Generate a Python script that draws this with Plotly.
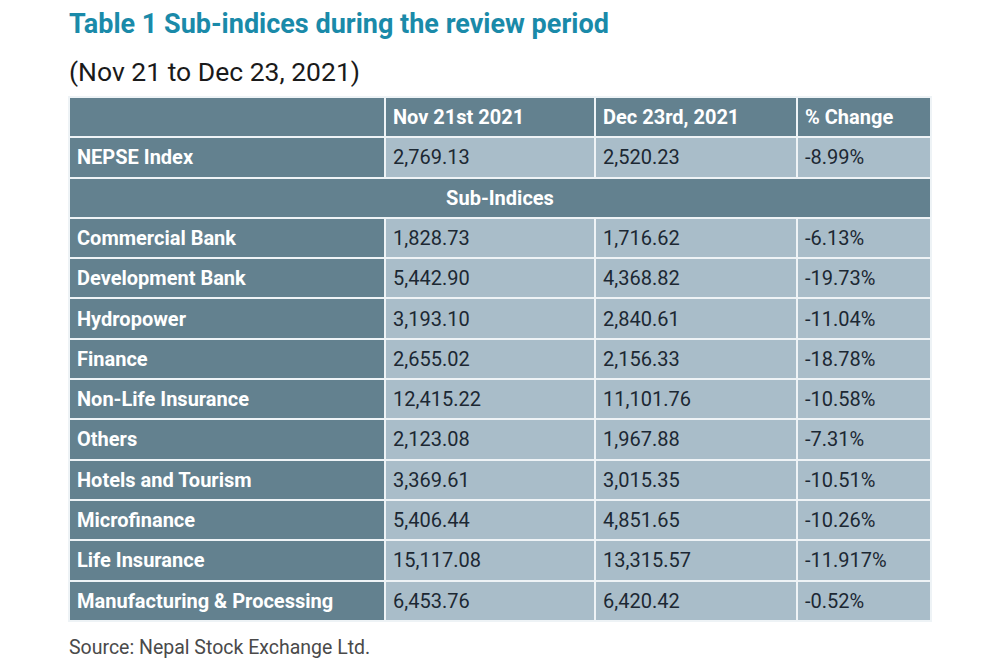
import plotly.graph_objects as go

# ---- data ----
title_text = "Table 1 Sub-indices during the review period"
subtitle_text = "(Nov 21 to Dec 23, 2021)"
source_text = "Source: Nepal Stock Exchange Ltd."

col_headers = ["", "Nov 21st 2021", "Dec 23rd, 2021", "% Change"]

main_label = ["NEPSE Index"]
main_nov = ["2,769.13"]
main_dec = ["2,520.23"]
main_chg = ["-8.99%"]

section_label = "Sub-Indices"

sectors = ["Commercial Bank", "Development Bank", "Hydropower", "Finance",
           "Non-Life Insurance", "Others", "Hotels and Tourism", "Microfinance",
           "Life Insurance", "Manufacturing & Processing"]
nov21 = ["1,828.73", "5,442.90", "3,193.10", "2,655.02", "12,415.22",
         "2,123.08", "3,369.61", "5,406.44", "15,117.08", "6,453.76"]
dec23 = ["1,716.62", "4,368.82", "2,840.61", "2,156.33", "11,101.76",
         "1,967.88", "3,015.35", "4,851.65", "13,315.57", "6,420.42"]
pct_change = ["-6.13%", "-19.73%", "-11.04%", "-18.78%", "-10.58%",
              "-7.31%", "-10.51%", "-10.26%", "-11.917%", "-0.52%"]

# ---- style ----
W, H = 1000, 666
OFF = 8  # page body margin offset of the figure inside the browser window
FONT = "Roboto, Liberation Sans, sans-serif"
DARK = "#63818f"
LIGHT = "#a9bdc9"
LINE = "#eef3f6"
TEXT_DARK = "#1c2833"
TEAL = "#1a8aa9"

x0, x1 = 69 - OFF, 931 - OFF
top = 97 - OFF
row_h = 40.3
col_w = [316, 210, 202, 134]
fs = 20
TXT_COLORS = ["white", TEXT_DARK, TEXT_DARK, TEXT_DARK]
FILLS = [DARK, LIGHT, LIGHT, LIGHT]
line = dict(color=LINE, width=2)


def ydom(top_px, n_rows):
    return [max(0, 1 - (top_px + n_rows * row_h + 3) / H), 1 - top_px / H]


def ypaper(px):
    return 1 - (px - OFF) / H


def bold(s):
    return "<b>%s</b>" % s


def plain(s):
    return "<span>%s</span>" % s


def plains(lst):
    return [plain(v) for v in lst]


xdom = [x0 / W, x1 / W]

fig = go.Figure()

# header + NEPSE row
fig.add_trace(go.Table(
    domain=dict(x=xdom, y=ydom(top, 2)),
    columnwidth=col_w,
    header=dict(values=[bold(h) for h in col_headers],
                fill_color=DARK, line=line, align="left", height=row_h,
                font=dict(family=FONT, size=fs, color="white")),
    cells=dict(values=[[bold(v) for v in main_label], plains(main_nov),
                       plains(main_dec), plains(main_chg)],
               fill_color=FILLS, line=line, align="left", height=row_h,
               font=dict(family=FONT, size=fs, color=TXT_COLORS)),
))

# Sub-Indices spanning row
fig.add_trace(go.Table(
    domain=dict(x=xdom, y=ydom(top + 2 * row_h, 1)),
    columnwidth=[sum(col_w)],
    header=dict(values=[bold(section_label)],
                fill_color=DARK, line=line, align="center", height=row_h,
                font=dict(family=FONT, size=fs, color="white")),
))

# sub-index rows (first row rendered as the table's header row)
fig.add_trace(go.Table(
    domain=dict(x=xdom, y=ydom(top + 3 * row_h, len(sectors))),
    columnwidth=col_w,
    header=dict(values=[bold(sectors[0]), plain(nov21[0]), plain(dec23[0]), plain(pct_change[0])],
                fill_color=FILLS, line=line, align="left", height=row_h,
                font=dict(family=FONT, size=fs, color=TXT_COLORS)),
    cells=dict(values=[[bold(s) for s in sectors[1:]], plains(nov21[1:]),
                       plains(dec23[1:]), plains(pct_change[1:])],
               fill_color=FILLS, line=line, align="left", height=row_h,
               font=dict(family=FONT, size=fs, color=TXT_COLORS)),
))

fig.add_annotation(text=bold(title_text), xref="paper", yref="paper",
                   x=x0 / W, y=ypaper(24), xanchor="left", yanchor="middle", showarrow=False,
                   xshift=-2, font=dict(family=FONT, size=27, color=TEAL))
fig.add_annotation(text=subtitle_text, xref="paper", yref="paper",
                   x=x0 / W, y=ypaper(71), xanchor="left", yanchor="middle", showarrow=False,
                   xshift=-2, font=dict(family=FONT, size=26.5, color="#1a1a1a"))
fig.add_annotation(text=source_text, xref="paper", yref="paper",
                   x=x0 / W, y=ypaper(647), xanchor="left", yanchor="middle", showarrow=False,
                   xshift=-2, font=dict(family=FONT, size=19.5, color="#4a4a4a"))

fig.update_layout(width=W, height=H, margin=dict(l=0, r=0, t=0, b=0),
                  paper_bgcolor="white", plot_bgcolor="white")
fig.write_html("out.html")
